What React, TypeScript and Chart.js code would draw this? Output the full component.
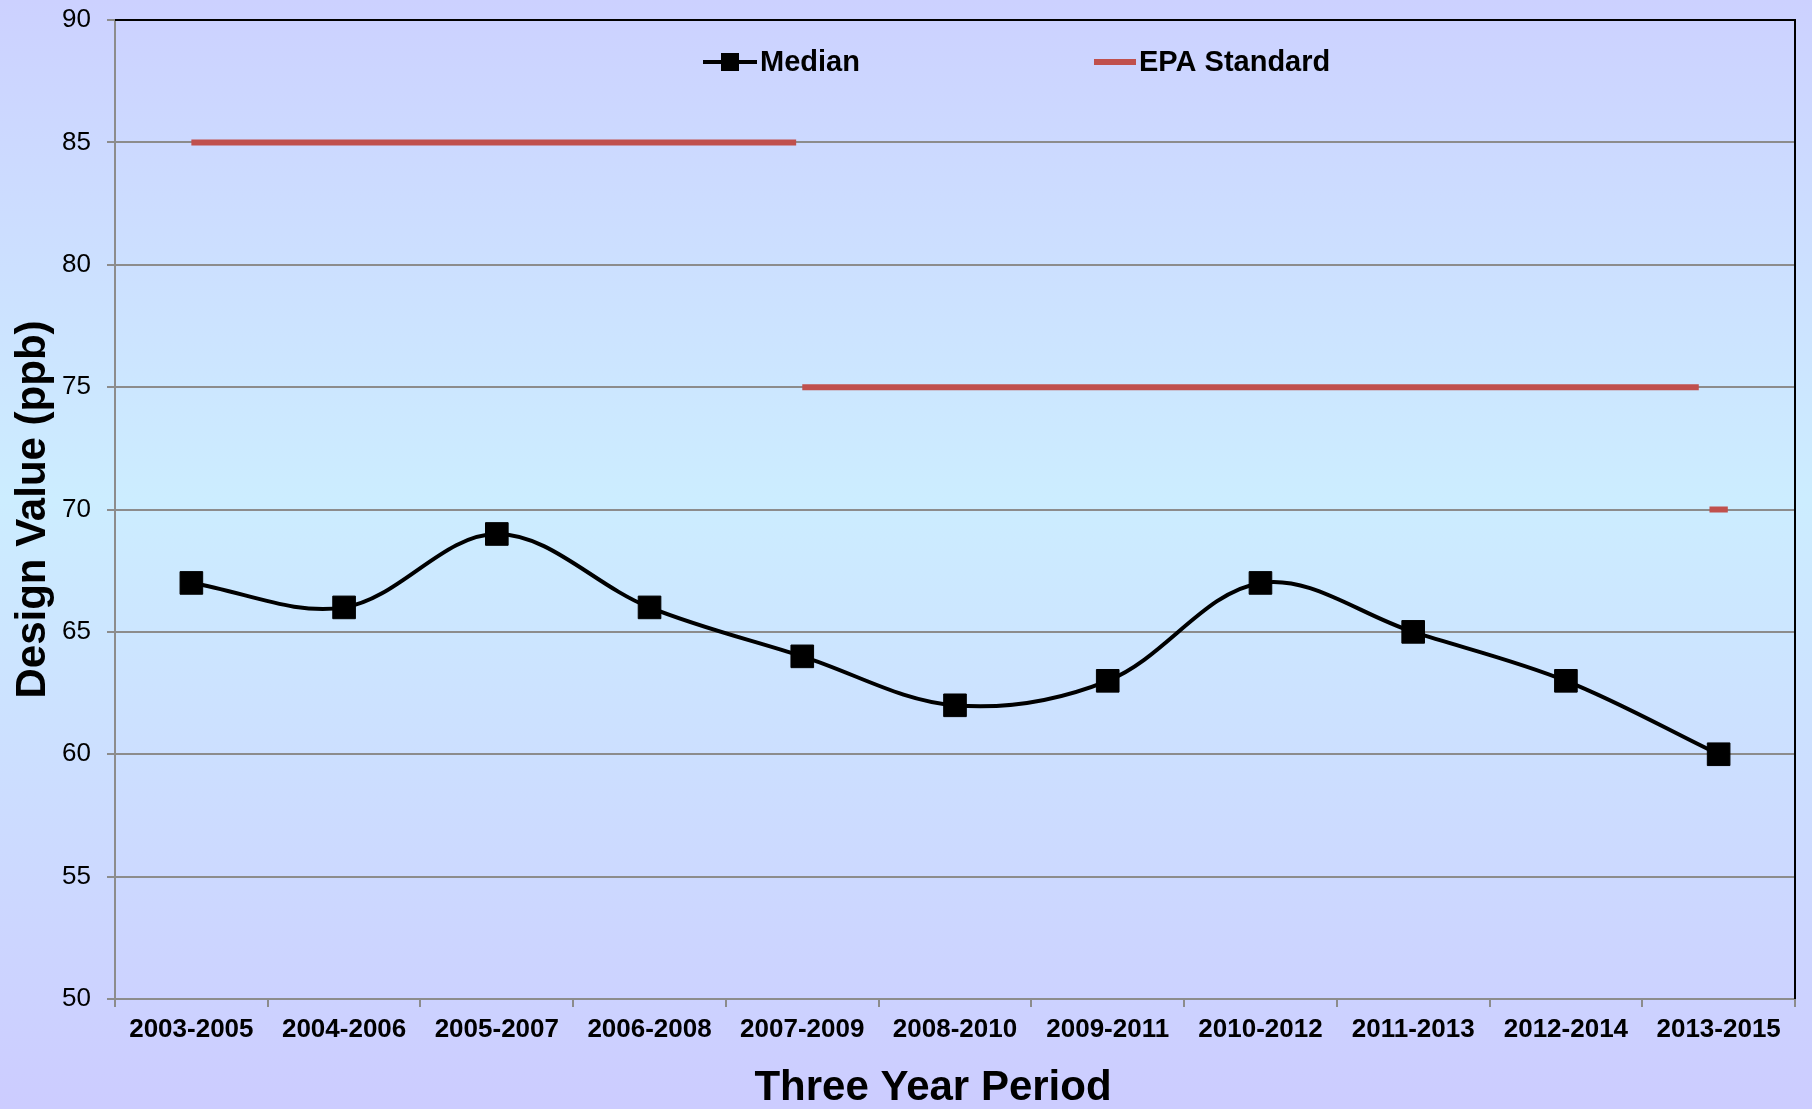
import React, { useEffect, useRef } from "react";
import { Chart, registerables } from "chart.js";

Chart.register(...registerables);

const periods = [
  "2003-2005", "2004-2006", "2005-2007", "2006-2008", "2007-2009", "2008-2010",
  "2009-2011", "2010-2012", "2011-2013", "2012-2014", "2013-2015",
];
const medianValues = [67, 66, 69, 66, 64, 62, 63, 67, 65, 63, 60];
// EPA standard: value and the span (in category index units) over which it applies
const epaValues = [85, 75, 70];
const epaFrom = [0, 4, 9.94];
const epaTo = [3.96, 9.87, 10.06];
const yTicks = { min: 50, max: 90, step: 5 };

const FONT = "'Liberation Sans', Arial, Helvetica, sans-serif";
const W = 1812;
const H = 1109;

export default function App() {
  const ref = useRef<HTMLCanvasElement | null>(null);

  useEffect(() => {
    if (!ref.current) return;

    const framePlugin = {
      id: "frame",
      afterDatasetsDraw(chart: any) {
        const { ctx, chartArea } = chart;
        ctx.save();
        ctx.strokeStyle = "#000";
        ctx.lineWidth = 2;
        ctx.beginPath();
        ctx.moveTo(chartArea.left, chartArea.top);
        ctx.lineTo(chartArea.right, chartArea.top);
        ctx.lineTo(chartArea.right, chartArea.bottom);
        ctx.stroke();
        ctx.restore();
      },
    };

    const legendTitlePlugin = {
      id: "legendTitle",
      afterDraw(chart: any) {
        const { ctx, chartArea } = chart;
        const ly = chartArea.top + 42;
        ctx.save();
        // Median
        const mx = chartArea.left + 588;
        ctx.strokeStyle = "#000";
        ctx.lineWidth = 4;
        ctx.beginPath();
        ctx.moveTo(mx, ly);
        ctx.lineTo(mx + 54, ly);
        ctx.stroke();
        ctx.fillStyle = "#000";
        ctx.fillRect(mx + 27 - 9, ly - 9, 18, 18);
        ctx.font = `bold 29px ${FONT}`;
        ctx.textBaseline = "middle";
        ctx.textAlign = "left";
        ctx.fillText("Median", mx + 57, ly + 1);
        // EPA Standard
        const ex = chartArea.left + 979;
        ctx.strokeStyle = "#C0504D";
        ctx.lineWidth = 6;
        ctx.beginPath();
        ctx.moveTo(ex, ly);
        ctx.lineTo(ex + 42, ly);
        ctx.stroke();
        ctx.fillStyle = "#000";
        ctx.fillText("EPA Standard", ex + 45, ly + 1);
        // x axis title
        ctx.font = `bold 42px ${FONT}`;
        ctx.textAlign = "center";
        ctx.fillText("Three Year Period", (chartArea.left + chartArea.right) / 2 - 22, 1088);
        ctx.restore();
      },
    };

    const epaDatasets = epaValues.map((v, i) => ({
      type: "line" as const,
      label: "EPA Standard",
      xAxisID: "xEpa",
      data: [
        { x: epaFrom[i], y: v },
        { x: epaTo[i], y: v },
      ],
      borderColor: "#C0504D",
      backgroundColor: "#C0504D",
      borderWidth: 6,
      borderCapStyle: "butt" as const,
      pointRadius: 0,
      tension: 0,
    }));

    const chart = new Chart(ref.current, {
      type: "line",
      data: {
        labels: periods,
        datasets: [
          ...epaDatasets,
          {
            label: "Median",
            xAxisID: "x",
            data: medianValues,
            borderColor: "#000",
            backgroundColor: "#000",
            borderWidth: 4,
            pointStyle: "rect",
            pointRadius: 16,
            pointBorderWidth: 1,
            pointBackgroundColor: "#000",
            pointBorderColor: "#000",
            tension: 0.35,
          } as any,
        ],
      },
      options: {
        responsive: false,
        animation: false,
        layout: { padding: { left: 0, right: 15, top: 20, bottom: 0 } },
        plugins: {
          legend: { display: false },
          title: { display: false },
          tooltip: { enabled: false },
        },
        scales: {
          x: {
            type: "category",
            offset: true,
            grid: {
              display: true,
              drawOnChartArea: false,
              drawTicks: true,
              tickLength: 8,
              color: "#8c8c8c",
              lineWidth: 2,
              offset: true,
            },
            border: { display: true, color: "#8c8c8c", width: 2 },
            ticks: {
              color: "#000",
              font: { family: FONT, size: 26, weight: "bold" },
              maxRotation: 0,
              minRotation: 0,
              autoSkip: false,
              padding: 7,
            },
            afterFit(scale: any) {
              scale.height = 110;
              scale.paddingLeft = 0;
              scale.paddingRight = 0;
            },
          },
          xEpa: {
            type: "linear",
            display: false,
            min: -0.5,
            max: 10.5,
          },
          y: {
            min: yTicks.min,
            max: yTicks.max,
            ticks: {
              stepSize: yTicks.step,
              color: "#000",
              font: { family: FONT, size: 26 },
              padding: 16,
            },
            grid: {
              color: "#8c8c8c",
              lineWidth: 2,
              tickLength: 8,
              drawTicks: true,
            },
            border: { display: true, color: "#8c8c8c", width: 2 },
            title: {
              display: true,
              text: "Design Value (ppb)",
              color: "#000",
              font: { family: FONT, size: 42, weight: "bold", lineHeight: 1 },
              padding: { top: 12, bottom: 0 },
            },
            afterFit(scale: any) {
              scale.width = 115;
              scale.paddingTop = 0;
              scale.paddingBottom = 0;
            },
          },
        },
      },
      plugins: [framePlugin, legendTitlePlugin],
    });

    return () => chart.destroy();
  }, []);

  return (
    <div
      style={{
        position: "absolute",
        left: 0,
        top: 0,
        width: W,
        height: H,
        overflow: "hidden",
        background:
          "linear-gradient(180deg, #CCD1FF 0%, #CCEDFF 45%, #CCCCFF 100%)",
      }}
    >
      <canvas ref={ref} width={W} height={H} style={{ display: "block", width: W, height: H }} />
    </div>
  );
}
